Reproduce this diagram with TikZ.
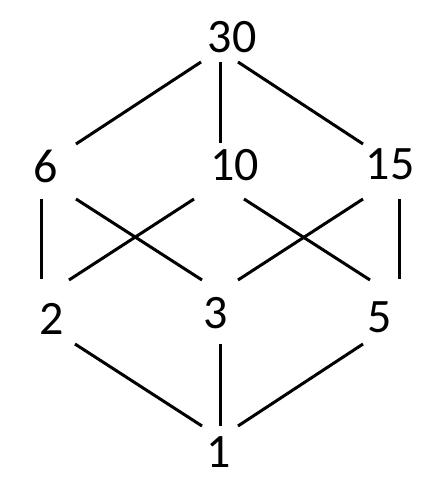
\documentclass[tikz,border=0pt]{standalone}
\usepackage{fontspec}
\setmainfont{Carlito}
\tikzset{
  num/.style={font=\fontsize{36}{43}\selectfont, inner sep=0pt},
  edge/.style={line width=2.25pt}
}
\begin{document}
\begin{tikzpicture}[x=0.75pt, y=-0.75pt]
    \useasboundingbox (0,0) rectangle (444,498);

    % Draw the divisors.
    \node[num] (n30) at (232,37.5) {30};
    \node[num] (n6) at (46,166.5) {6};
    \node[num] (n10) at (234.5,165) {10};
    \node[num] (n15) at (390,164) {15};
    \node[num] (n2) at (52,319) {2};
    \node[num] (n3) at (216,313) {3};
    \node[num] (n5) at (379.5,317) {5};
    \node[num] (n1) at (219,452.5) {1};

    % Draw the lines.
    % 30 -> 6, 10, 15.
    \draw[edge] ([shift={(-31,24.5)}]n30.center) -- ([shift={(30,-22.5)}]n6.center);
    \draw[edge] ([shift={(-12,24.5)}]n30.center) -- ([shift={(-14.5,-22)}]n10.center);
    \draw[edge] ([shift={(6,24.5)}]n30.center) -- ([shift={(-27,-20)}]n15.center);
    % 6, 10, 15 -> 2, 3, 5.
    \draw[edge] ([shift={(-5,32.5)}]n6.center) -- ([shift={(-11,-40)}]n2.center);
    \draw[edge] ([shift={(30,32.5)}]n6.center) -- ([shift={(-14,-33)}]n3.center);
    \draw[edge] ([shift={(-40.5,34)}]n10.center) -- ([shift={(17,-39)}]n2.center);
    \draw[edge] ([shift={(9.5,34)}]n10.center) -- ([shift={(-9.5,-37)}]n5.center);
    \draw[edge] ([shift={(-27,35)}]n15.center) -- ([shift={(22,-33)}]n3.center);
    \draw[edge] ([shift={(9,35)}]n15.center) -- ([shift={(19.5,-38)}]n5.center);
    % 2, 3, 5 -> 1.
    \draw[edge] ([shift={(23,25)}]n2.center) -- ([shift={(-17,-26.5)}]n1.center);
    \draw[edge] ([shift={(4,31)}]n3.center) -- ([shift={(1,-26.5)}]n1.center);
    \draw[edge] ([shift={(-16.5,27)}]n5.center) -- ([shift={(19,-26.5)}]n1.center);
  \end{tikzpicture}
\end{document}
